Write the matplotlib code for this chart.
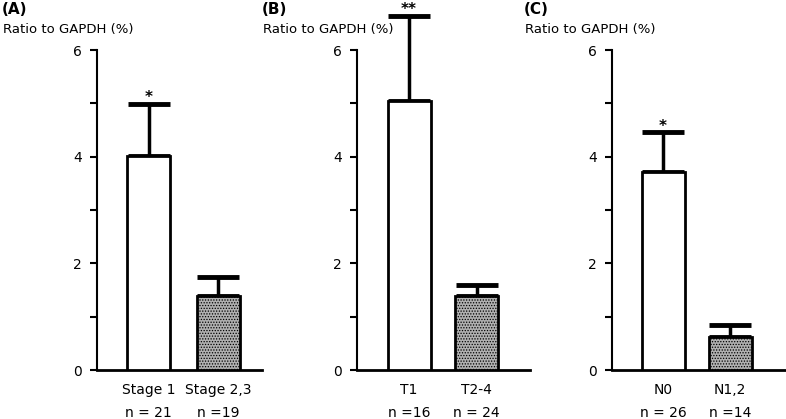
import matplotlib
matplotlib.use("Agg")
import matplotlib.pyplot as plt
from matplotlib.ticker import MultipleLocator

# values
panel_letters = ["(A)", "(B)", "(C)"]
groups = [["Stage 1", "Stage 2,3"], ["T1", "T2-4"], ["N0", "N1,2"]]
means = [[4.02, 1.38], [5.05, 1.38], [3.72, 0.62]]
errors = [[0.97, 0.37], [1.59, 0.22], [0.74, 0.23]]
n_labels = [["n = 21", "n =19"], ["n =16", "n = 24"], ["n = 26", "n =14"]]
stars = ["*", "**", "*"]

plt.rcParams["font.family"] = ["DejaVu Sans"]
plt.rcParams["hatch.linewidth"] = 0.6

fig = plt.figure(figsize=(7.86, 4.19), dpi=100)
W, H = 786.0, 419.0

# pixel layout of each panel: axis x, first bar centre, bar spacing, right end
layout = [(97, 148.5, 69.5, 262), (357, 409, 67.5, 530), (612, 663, 67, 786)]
y0_px, y6_px = 370, 50

for i in range(3):
    ax_x, c1, step, right = layout[i]
    ax = fig.add_axes([ax_x / W, 1 - y0_px / H, (right - ax_x) / W, (y0_px - y6_px) / H])
    ax.set_xlim(-(c1 - ax_x) / step, 1 + (right - c1 - step) / step)
    ax.set_ylim(0, 6)
    width = 43 / step
    ax.bar([0], [means[i][0]], width=width, color="white", edgecolor="black", linewidth=2, zorder=3)
    ax.bar([1], [means[i][1]], width=width, color="#b0b0b0", edgecolor="black", linewidth=2,
           hatch="......", zorder=3)
    for j in range(2):
        ax.errorbar([j], [means[i][j]], yerr=[[0], [errors[i][j]]], fmt="none", ecolor="black",
                    elinewidth=2.5, capsize=15, capthick=3.5, clip_on=False, zorder=2)
    top = means[i][0] + errors[i][0]
    ax.annotate(stars[i], (0, top), xytext=(0, 1), textcoords="offset points", ha="center",
                va="baseline", fontsize=11, fontweight="bold", annotation_clip=False)

    ax.spines["top"].set_visible(False)
    ax.spines["right"].set_visible(False)
    ax.spines["left"].set_linewidth(1.5)
    ax.spines["bottom"].set_linewidth(2)
    ax.yaxis.set_major_locator(MultipleLocator(2))
    ax.yaxis.set_minor_locator(MultipleLocator(1))
    ax.tick_params(axis="y", which="major", direction="out", length=5, width=1.5,
                   labelsize=10, pad=6)
    ax.tick_params(axis="y", which="minor", direction="out", length=5, width=1.5)
    ax.set_xticks([0, 1])
    ax.set_xticklabels(groups[i], fontsize=10)
    ax.tick_params(axis="x", length=0, pad=9)
    for j in range(2):
        ax.annotate(n_labels[i][j], (j, 0), xytext=(0, -31), textcoords="offset points",
                    ha="center", va="center", fontsize=10, annotation_clip=False)

    title_x = [2, 262, 524][i]
    fig.text(title_x / W, 1 - 10 / H, panel_letters[i], fontsize=11, fontweight="bold",
             ha="left", va="center")
    fig.text((title_x + 1) / W, 1 - 29 / H, "Ratio to GAPDH (%)", fontsize=9.5,
             ha="left", va="center")

fig.savefig("out.png", dpi=100)
